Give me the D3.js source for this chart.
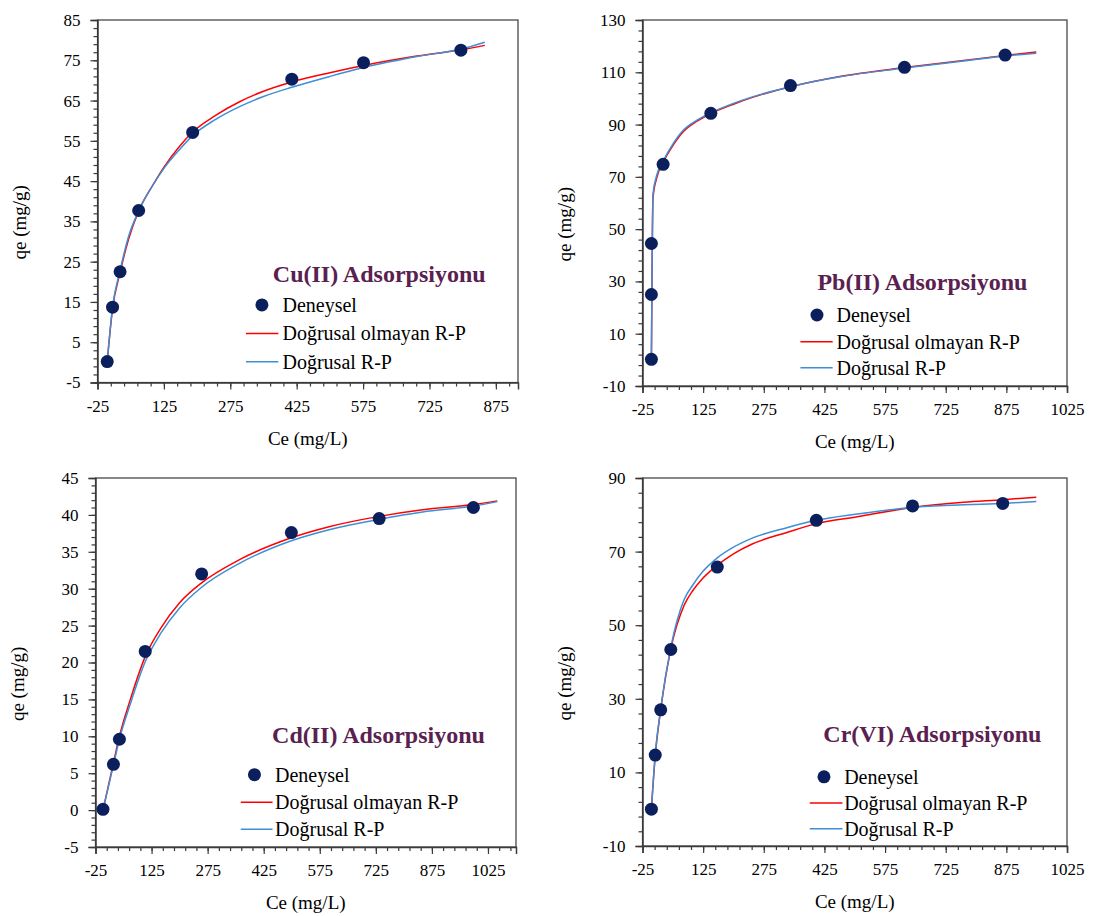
<!DOCTYPE html>
<html>
<head>
<meta charset="utf-8">
<script src="https://cdn.jsdelivr.net/npm/d3@7"></script>
<style>
  html, body { margin: 0; padding: 0; background: #ffffff; }
  svg { display: block; }
  svg text { font-family: "Liberation Serif", "Times New Roman", Times, Tinos, "DejaVu Serif", serif !important; fill: #000; }
</style>
</head>
<body>
<svg id="chart" width="1094" height="916"></svg>
<script>
// ---- Cu(II) ----
const cuCe = [-3, 9, 26, 68, 190, 414, 576, 796];
const cuQe = [0.2, 13.7, 22.5, 37.7, 57.1, 70.3, 74.4, 77.5];
const cuFitCe = [-3, 9, 26, 45, 68, 100, 126, 160, 190, 240, 296, 350, 414, 500, 576, 700, 796, 850];
const cuNonLin = [0.2, 13.3, 22.3, 30.5, 37.6, 44.0, 48.6, 53.6, 57.2, 61.2, 64.7, 67.3, 69.6, 71.9, 73.7, 76.1, 77.6, 78.7];
const cuLin = [0.2, 13.7, 22.8, 31.2, 37.6, 44.0, 48.3, 52.8, 56.3, 60.2, 63.5, 66.0, 68.3, 71.0, 73.2, 76.0, 77.8, 79.5];
const cuXTicks = [-25, 125, 275, 425, 575, 725, 875];
const cuYTicks = [-5, 5, 15, 25, 35, 45, 55, 65, 75, 85];

// ---- Pb(II) ----
const pbCe = [-3, -3, -3, 26, 144, 341, 623, 872];
const pbQe = [0.2, 25, 44.5, 74.8, 94.3, 104.9, 111.9, 116.6];
const pbFitCe = [-3, -1, 1, 10, 26, 52, 78, 110, 144, 200, 245, 341, 463, 623, 769, 872, 949];
const pbNonLin = [0, 40, 62, 69.5, 75.5, 82.4, 87.6, 91.3, 94.2, 97.8, 100.3, 104.5, 108.4, 111.8, 114.5, 116.4, 117.8];
const pbLin = [0, 42, 63.5, 70.5, 76, 83, 88.2, 91.7, 94.5, 98.1, 100.5, 104.5, 108.3, 111.6, 114.3, 116.2, 117.3];
const pbXTicks = [-25, 125, 275, 425, 575, 725, 875, 1025];
const pbYTicks = [-10, 10, 30, 50, 70, 90, 110, 130];

// ---- Cd(II) ----
const cdCe = [-5, 23, 39, 108, 259, 499, 734, 986];
const cdQe = [0.1, 6.2, 9.6, 21.5, 32.0, 37.6, 39.5, 41.0];
const cdFitCe = [-5, 23, 39, 67, 108, 149, 200, 259, 359, 499, 600, 734, 850, 986, 1050];
const cdNonLin = [0, 6.4, 10.0, 14.8, 20.8, 24.6, 28.1, 30.8, 33.9, 36.9, 38.4, 39.8, 40.7, 41.4, 41.9];
const cdLin = [0, 6.1, 9.6, 14.2, 20.1, 23.9, 27.4, 30.2, 33.4, 36.5, 38.0, 39.4, 40.4, 41.2, 41.8];
const cdXTicks = [-25, 125, 275, 425, 575, 725, 875, 1025];
const cdYTicks = [-5, 0, 5, 10, 15, 20, 25, 30, 35, 40, 45];

// ---- Cr(VI) ----
const crCe = [-3, 6.5, 20, 45, 160, 405, 643, 866];
const crQe = [0, 14.7, 27.0, 43.4, 65.8, 78.5, 82.4, 83.1];
const crFitCe = [-3, 6.5, 20, 45, 78, 100, 122, 160, 200, 245, 332, 405, 506, 643, 769, 866, 949];
const crNonLin = [0, 14.5, 27, 43.5, 55.4, 59.5, 62.5, 66.3, 69.4, 72, 75.2, 77.6, 79.5, 82, 83.4, 84.1, 84.8];
const crLin = [0, 14.8, 27.3, 44.0, 57, 61, 64.3, 68.3, 71.2, 73.6, 76.5, 78.5, 80.2, 82.0, 82.7, 83.1, 83.6];
const crXTicks = [-25, 125, 275, 425, 575, 725, 875, 1025];
const crYTicks = [-10, 10, 30, 50, 70, 90];

const legendLabels = ["Deneysel", "Doğrusal olmayan R-P", "Doğrusal R-P"];
const xTitle = "Ce (mg/L)";
const yTitle = "qe (mg/g)";

const COLORS = { point: "#0b1f5c", nonLin: "#ff0000", lin: "#3d8fd6", title: "#5a2150", axis: "#3a3a3a" };
const SERIF = "'Liberation Serif', 'Times New Roman', Times, Tinos, 'DejaVu Serif', serif";

const panels = [
  { name: "Cu(II) Adsorpsiyonu", box: [97.5, 20, 518, 382.5], xDom: [-25, 925], xMinor: 30, yDom: [-5, 85], yMinor: 2,
    ce: cuCe, qe: cuQe, fitCe: cuFitCe, nonLin: cuNonLin, lin: cuLin, xTicks: cuXTicks, yTicks: cuYTicks,
    leg: { tx: 0.417, ty: 0.70, mx: 0.391, my: 0.786, txt: 0.440, l0: 0.353, l1: 0.430, ry: 0.8645, by: 0.943 } },
  { name: "Pb(II) Adsorpsiyonu", box: [642.5, 20, 1067, 386], xDom: [-25, 1025], xMinor: 30, yDom: [-10, 130], yMinor: 4,
    ce: pbCe, qe: pbQe, fitCe: pbFitCe, nonLin: pbNonLin, lin: pbLin, xTicks: pbXTicks, yTicks: pbYTicks,
    leg: { tx: 0.412, ty: 0.7155, mx: 0.411, my: 0.806, txt: 0.457, l0: 0.372, l1: 0.448, ry: 0.879, by: 0.95 } },
  { name: "Cd(II) Adsorpsiyonu", box: [95.5, 478, 516, 847], xDom: [-25, 1100], xMinor: 30, yDom: [-5, 45], yMinor: 1,
    ce: cdCe, qe: cdQe, fitCe: cdFitCe, nonLin: cdNonLin, lin: cdLin, xTicks: cdXTicks, yTicks: cdYTicks,
    leg: { tx: 0.420, ty: 0.695, mx: 0.378, my: 0.804, txt: 0.427, l0: 0.3455, l1: 0.421, ry: 0.879, by: 0.952 } },
  { name: "Cr(VI) Adsorpsiyonu", box: [642.5, 478, 1067, 846], xDom: [-25, 1025], xMinor: 30, yDom: [-10, 90], yMinor: 4,
    ce: crCe, qe: crQe, fitCe: crFitCe, nonLin: crNonLin, lin: crLin, xTicks: crXTicks, yTicks: crYTicks,
    leg: { tx: 0.426, ty: 0.694, mx: 0.4275, my: 0.812, txt: 0.475, l0: 0.394, l1: 0.471, ry: 0.883, by: 0.953 } }
];

const svg = d3.select("#chart");
const fmt = d => String(d);

function range(a, b, step) {
  const out = [];
  for (let v = a; v <= b + 1e-9; v += step) out.push(+v.toFixed(6));
  return out;
}

function styleAxis(sel, size) {
  sel.attr("font-family", SERIF);
  sel.select(".domain").attr("stroke", COLORS.axis).attr("stroke-width", 1.5);
  sel.selectAll("line").attr("stroke", COLORS.axis).attr("stroke-width", 1.2);
  sel.selectAll("text").attr("font-size", size).style("font-family", SERIF).attr("fill", "#000");
}

panels.forEach(p => {
  const [x0, y0, x1, y1] = p.box;
  const W = x1 - x0, H = y1 - y0;
  const x = d3.scaleLinear().domain(p.xDom).range([x0, x1]);
  const y = d3.scaleLinear().domain(p.yDom).range([y1, y0]);
  const g = svg.append("g").style("font-family", SERIF);

  // plot frame
  g.append("rect").attr("x", x0).attr("y", y0).attr("width", W).attr("height", H)
    .attr("fill", "none").attr("stroke", COLORS.axis).attr("stroke-width", 1.2);

  // minor ticks
  const xMinorVals = range(p.xDom[0], p.xDom[1], p.xMinor);
  const yMinorVals = range(p.yDom[0], p.yDom[1], p.yMinor);
  g.append("g").attr("transform", `translate(0,${y1})`)
    .call(d3.axisBottom(x).tickValues(xMinorVals).tickSize(4).tickFormat(""))
    .call(a => a.select(".domain").remove())
    .call(a => a.selectAll("line").attr("stroke", COLORS.axis).attr("stroke-width", 1.2));
  g.append("g").attr("transform", `translate(${x0},0)`)
    .call(d3.axisLeft(y).tickValues(yMinorVals).tickSize(4).tickFormat(""))
    .call(a => a.select(".domain").remove())
    .call(a => a.selectAll("line").attr("stroke", COLORS.axis).attr("stroke-width", 1.2));

  // major ticks and labels
  g.append("g").attr("transform", `translate(0,${y1})`)
    .call(d3.axisBottom(x).tickValues(p.xTicks).tickSize(7).tickPadding(10).tickFormat(fmt))
    .call(a => styleAxis(a, 17));
  g.append("g").attr("transform", `translate(${x0},0)`)
    .call(d3.axisLeft(y).tickValues(p.yTicks).tickSize(7).tickPadding(10).tickFormat(fmt))
    .call(a => styleAxis(a, 17));

  // axis titles
  g.append("text").attr("x", x0 + W * 0.5).attr("y", y1 + 62).attr("text-anchor", "middle")
    .attr("font-size", 19).style("font-family", SERIF).text(xTitle);
  const yc = y0 + H * 0.558;
  g.append("text").attr("transform", `translate(${x0 - 72},${yc}) rotate(-90)`)
    .attr("text-anchor", "middle").attr("font-size", 19).style("font-family", SERIF).text(yTitle);

  // fitted curves
  const line = d3.line().x(d => x(d[0])).y(d => y(d[1])).curve(d3.curveMonotoneX);
  g.append("path").datum(p.fitCe.map((c, i) => [c, p.nonLin[i]]))
    .attr("d", line).attr("fill", "none").attr("stroke", COLORS.nonLin).attr("stroke-width", 1.5);
  g.append("path").datum(p.fitCe.map((c, i) => [c, p.lin[i]]))
    .attr("d", line).attr("fill", "none").attr("stroke", COLORS.lin).attr("stroke-width", 1.5);

  // experimental points
  g.selectAll("circle.pt").data(p.ce.map((c, i) => [c, p.qe[i]])).join("circle")
    .attr("class", "pt").attr("cx", d => x(d[0])).attr("cy", d => y(d[1])).attr("r", 6.5)
    .attr("fill", COLORS.point);

  // title and legend
  const L = p.leg;
  const px = f => x0 + W * f, py = f => y0 + H * f;
  g.append("text").attr("x", px(L.tx)).attr("y", py(L.ty)).attr("dy", "0.35em")
    .attr("font-size", 24).attr("font-weight", "bold").style("font-family", SERIF).style("fill", COLORS.title).text(p.name);
  g.append("circle").attr("cx", px(L.mx)).attr("cy", py(L.my)).attr("r", 6.5).attr("fill", COLORS.point);
  g.append("text").attr("x", px(L.txt)).attr("y", py(L.my)).attr("dy", "0.35em").attr("font-size", 20).style("font-family", SERIF).text(legendLabels[0]);
  g.append("line").attr("x1", px(L.l0)).attr("x2", px(L.l1)).attr("y1", py(L.ry)).attr("y2", py(L.ry))
    .attr("stroke", COLORS.nonLin).attr("stroke-width", 1.5);
  g.append("text").attr("x", px(L.txt)).attr("y", py(L.ry)).attr("dy", "0.35em").attr("font-size", 20).style("font-family", SERIF).text(legendLabels[1]);
  g.append("line").attr("x1", px(L.l0)).attr("x2", px(L.l1)).attr("y1", py(L.by)).attr("y2", py(L.by))
    .attr("stroke", COLORS.lin).attr("stroke-width", 1.5);
  g.append("text").attr("x", px(L.txt)).attr("y", py(L.by)).attr("dy", "0.35em").attr("font-size", 20).style("font-family", SERIF).text(legendLabels[2]);
});
</script>
</body>
</html>
